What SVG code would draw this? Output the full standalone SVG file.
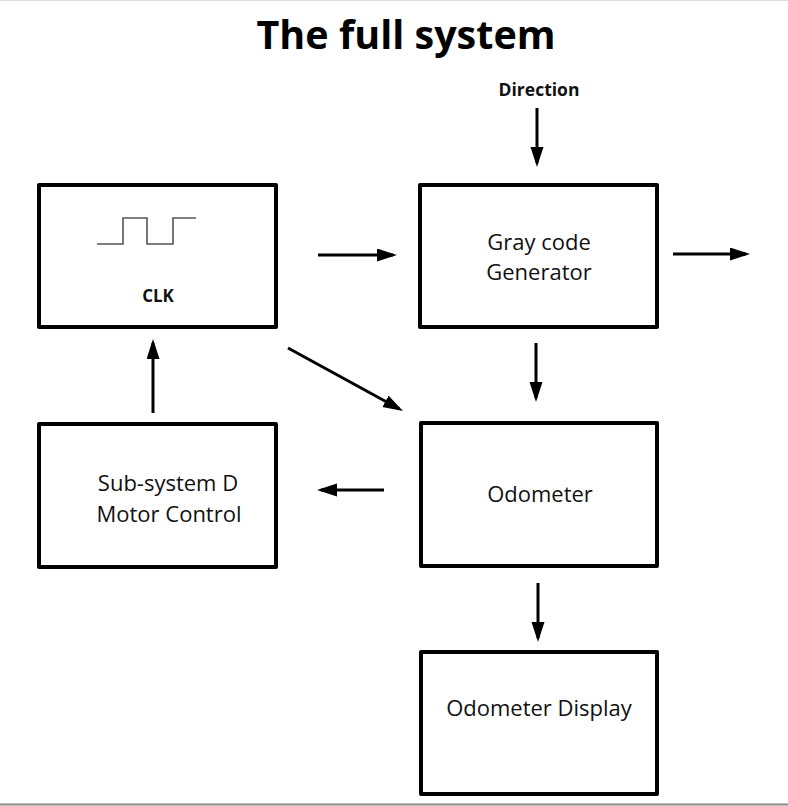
<svg xmlns="http://www.w3.org/2000/svg" width="788" height="806" viewBox="0 0 788 806">
<style>
.box{fill:#fff;stroke:#000;stroke-width:4;stroke-linejoin:round}
.t{font-family:"Open Sans","Liberation Sans",sans-serif;fill:#111;text-anchor:middle;font-size:22px}
.b{font-weight:bold}
.c{stroke:#000;stroke-width:3;fill:none;marker-end:url(#ah)}
</style>
<defs>
<marker id="ah" markerUnits="userSpaceOnUse" markerWidth="22" markerHeight="14" refX="16" refY="6.5" orient="auto">
<path d="M0,0 L20,6.5 L0,13 z" fill="#000"/>
</marker>
</defs>
<rect width="788" height="806" fill="#fff"/>
<line x1="0" y1="0.5" x2="788" y2="0.5" stroke="#ddd" stroke-width="1"/>
<line x1="0" y1="804.5" x2="788" y2="804.5" stroke="#888" stroke-width="2"/>
<text x="406" y="49" class="t b" style="font-size:39.5px;fill:#000">The full system</text>
<text x="539" y="96" class="t b" style="font-size:17.5px">Direction</text>
<g id="clk">
<rect class="box" x="39" y="185" width="237" height="142"/>
<path d="M97,244 H123 V218 H147 V244 H173 V218 H196" fill="none" stroke="#555" stroke-width="1.6"/>
<text x="158" y="302" class="t b" style="font-size:17px">CLK</text>
</g>
<g id="gray">
<rect class="box" x="420" y="185" width="237" height="142"/>
<text x="539" y="250" class="t">Gray code</text>
<text x="539" y="280" class="t">Generator</text>
</g>
<g id="odometer">
<rect class="box" x="421" y="423" width="236" height="143"/>
<text x="540" y="502" class="t">Odometer</text>
</g>
<g id="subsystem">
<rect class="box" x="39" y="424" width="237" height="143"/>
<text x="168" y="491" class="t">Sub-system D</text>
<text x="169" y="522" class="t">Motor Control</text>
</g>
<g id="display">
<rect class="box" x="421" y="652" width="236" height="142"/>
<text x="539" y="716" class="t">Odometer Display</text>
</g>
<g id="connectors">
<line class="c" x1="537" y1="108" x2="537" y2="163"/>
<line class="c" x1="318" y1="255" x2="393" y2="255"/>
<line class="c" x1="673" y1="254" x2="746" y2="254"/>
<line class="c" x1="536" y1="343" x2="536" y2="398"/>
<line class="c" x1="288" y1="348" x2="399.5" y2="409"/>
<line class="c" x1="153" y1="413" x2="153" y2="343"/>
<line class="c" x1="384" y1="490" x2="321" y2="490"/>
<line class="c" x1="538" y1="583" x2="538" y2="638"/>
</g>
</svg>
